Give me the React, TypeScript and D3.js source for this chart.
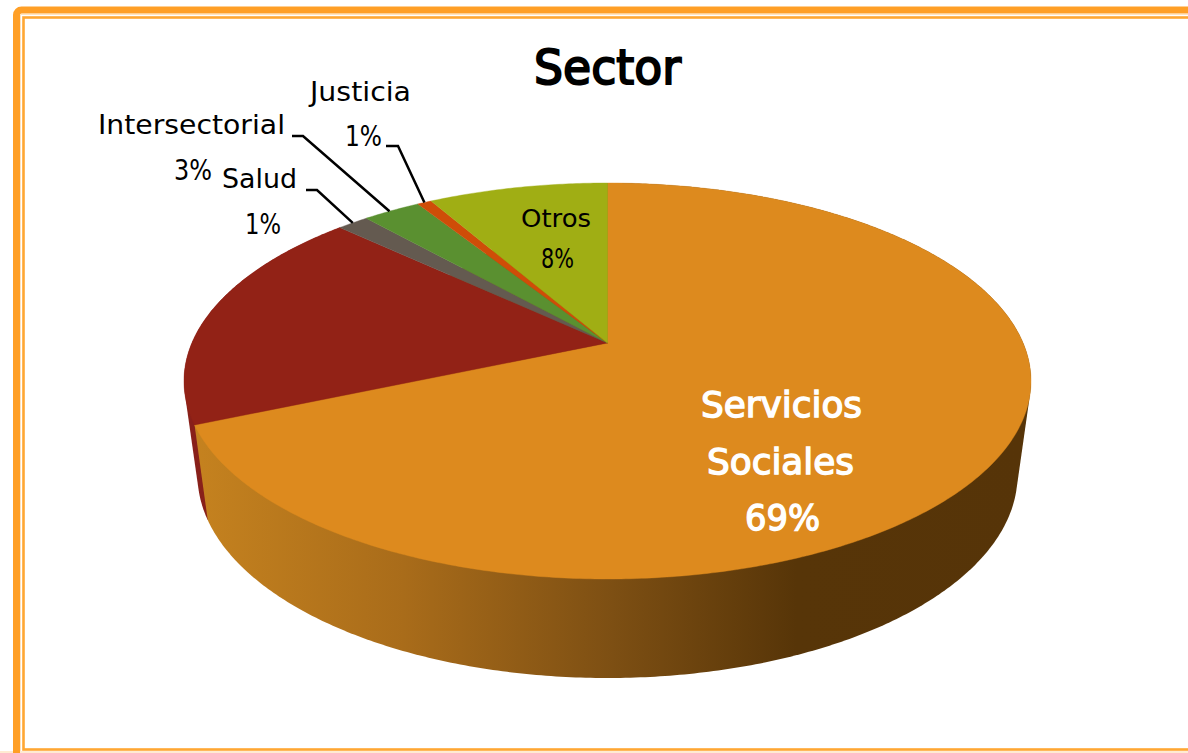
import React from "react";
import * as d3 from "d3";

const categories = ["Servicios Sociales", "Sin etiqueta", "Salud", "Intersectorial", "Justicia", "Otros"];
const shares = [68.5, 18.5, 1.44, 2.66, 0.65, 8.25];
const sliceColors = ["#dd8a1e", "#922216", "#645a50", "#5a9030", "#cf4d08", "#a0ae14"];
const sideRed = "#88201a";
const sideStops = [
  { at: 0, color: "#c5821f" },
  { at: 0.25, color: "#a96c1a" },
  { at: 0.5, color: "#7d4f13" },
  { at: 0.72, color: "#573508" },
  { at: 1, color: "#563408" },
];
const FONT = "'DejaVu Sans', sans-serif";

// top face and bottom rim ellipses; k pushes the apex towards the far rim (perspective)
const top = { cx: 607.5, cy: 381, rx: 423.5, ry: 198 };
const bottom = { cx: 607.5, cy: 475, rx: 410, ry: 203 };
const k = 0.192;

function project(a: number) {
  const sx = Math.sin(a), sy = Math.cos(a);
  const d = 1 + k * sy;
  return [(sx * Math.sqrt(1 - k * k)) / d, (sy + k) / d];
}
const onRim = (e: typeof top, a: number): [number, number] => {
  const [u, v] = project(a);
  return [e.cx + e.rx * u, e.cy - e.ry * v];
};
const apex: [number, number] = [top.cx, top.cy - top.ry * k];
const samples = (a0: number, a1: number) => {
  const n = Math.max(4, Math.ceil((a1 - a0) / 0.01));
  return d3.range(n + 1).map((i) => a0 + ((a1 - a0) * i) / n);
};
const line = d3.line<[number, number]>();
const arcs = d3.pie<number>().sort(null)(shares);

const sideHull = (a0: number, a1: number) => {
  const pts = samples(a0, a1).flatMap((a) => [onRim(top, a), onRim(bottom, a)]);
  return line(d3.polygonHull(pts) as [number, number][]) + "Z";
};

type Lbl = { text: string; x0: number; x1: number; y: number; size: number; fill?: string; bold?: number };
const labels: Lbl[] = [
  { text: "Justicia", x0: 310, x1: 411, y: 101, size: 27 },
  { text: "1%", x0: 345, x1: 382, y: 146, size: 28 },
  { text: "Intersectorial", x0: 98, x1: 285, y: 134, size: 27 },
  { text: "3%", x0: 174, x1: 212, y: 180, size: 28 },
  { text: "Salud", x0: 222, x1: 297, y: 188, size: 27 },
  { text: "1%", x0: 245, x1: 281, y: 234, size: 28 },
  { text: "Otros", x0: 521, x1: 591, y: 227, size: 24 },
  { text: "8%", x0: 541, x1: 574, y: 268, size: 26 },
  { text: "Servicios", x0: 701, x1: 862, y: 417, size: 36, fill: "#ffffff", bold: 1.4 },
  { text: "Sociales", x0: 707, x1: 854, y: 474, size: 36, fill: "#ffffff", bold: 1.4 },
  { text: "69%", x0: 745, x1: 820, y: 530, size: 36, fill: "#ffffff", bold: 1.4 },
  { text: "Sector", x0: 534, x1: 681, y: 84, size: 48, bold: 2 },
];

const leaders: { slice: number; from: [number, number][]; at: number }[] = [
  { slice: 2, from: [[306, 190], [317, 190]], at: 0.5 },
  { slice: 3, from: [[292, 136], [303, 136]], at: 0.46 },
  { slice: 4, from: [[386, 146], [398, 146]], at: 0.5 },
];

export default function App() {
  const orange = arcs[0];
  const red = arcs[1];
  const span = [184, 1031];
  return (
    <svg width={1188} height={753} style={{ position: "absolute", left: 0, top: 0, display: "block" }}>
      <defs>
        <linearGradient id="side" gradientUnits="userSpaceOnUse" x1={span[0] + 10} x2={span[1]} y1={0} y2={0}>
          {sideStops.map((s) => (
            <stop key={s.at} offset={s.at} stopColor={s.color} />
          ))}
        </linearGradient>
      </defs>
      <rect width={1188} height={753} fill="#ffffff" />
      {/* frame */}
      <rect x={16.5} y={10} width={1300} height={900} rx={5} fill="none" stroke="#ff9f26" strokeWidth={7} />
      <rect x={20.5} y={14.5} width={1300} height={900} fill="none" stroke="#ffe3bd" strokeWidth={1} />
      <rect x={23.5} y={17.5} width={1300} height={732} fill="none" stroke="#ffa733" strokeWidth={2.6} />
      <rect x={0} y={751} width={1188} height={2} fill="#ffebd2" />
      <rect x={13} y={740} width={7} height={13} fill="#ff9f26" />

      {/* side walls */}
      <path d={sideHull(red.startAngle, red.endAngle)} fill={sideRed} />
      <path d={sideHull(orange.startAngle, orange.endAngle)} fill="url(#side)" />

      {/* top face */}
      {arcs.map((a, i) => (
        <path
          key={categories[i]}
          d={line([apex, ...samples(a.startAngle, a.endAngle).map((t) => onRim(top, t))]) + "Z"}
          fill={sliceColors[i]}
          stroke={sliceColors[i]}
          strokeWidth={0.4}
        />
      ))}

      {/* leader lines */}
      {leaders.map((l) => {
        const a = arcs[l.slice];
        const end = onRim(top, a.startAngle + (a.endAngle - a.startAngle) * l.at);
        return <path key={l.slice} d={line([...l.from, end]) ?? ""} fill="none" stroke="#000000" strokeWidth={2.5} />;
      })}

      {labels.map((l, i) => (
        <text
          key={i}
          x={l.x0}
          y={l.y}
          textLength={l.x1 - l.x0}
          lengthAdjust="spacingAndGlyphs"
          fontFamily={FONT}
          fontSize={l.size}
          fill={l.fill ?? "#000000"}
          stroke={l.bold ? (l.fill ?? "#000000") : "none"}
          strokeWidth={l.bold ?? 0}
        >
          {l.text}
        </text>
      ))}
    </svg>
  );
}
